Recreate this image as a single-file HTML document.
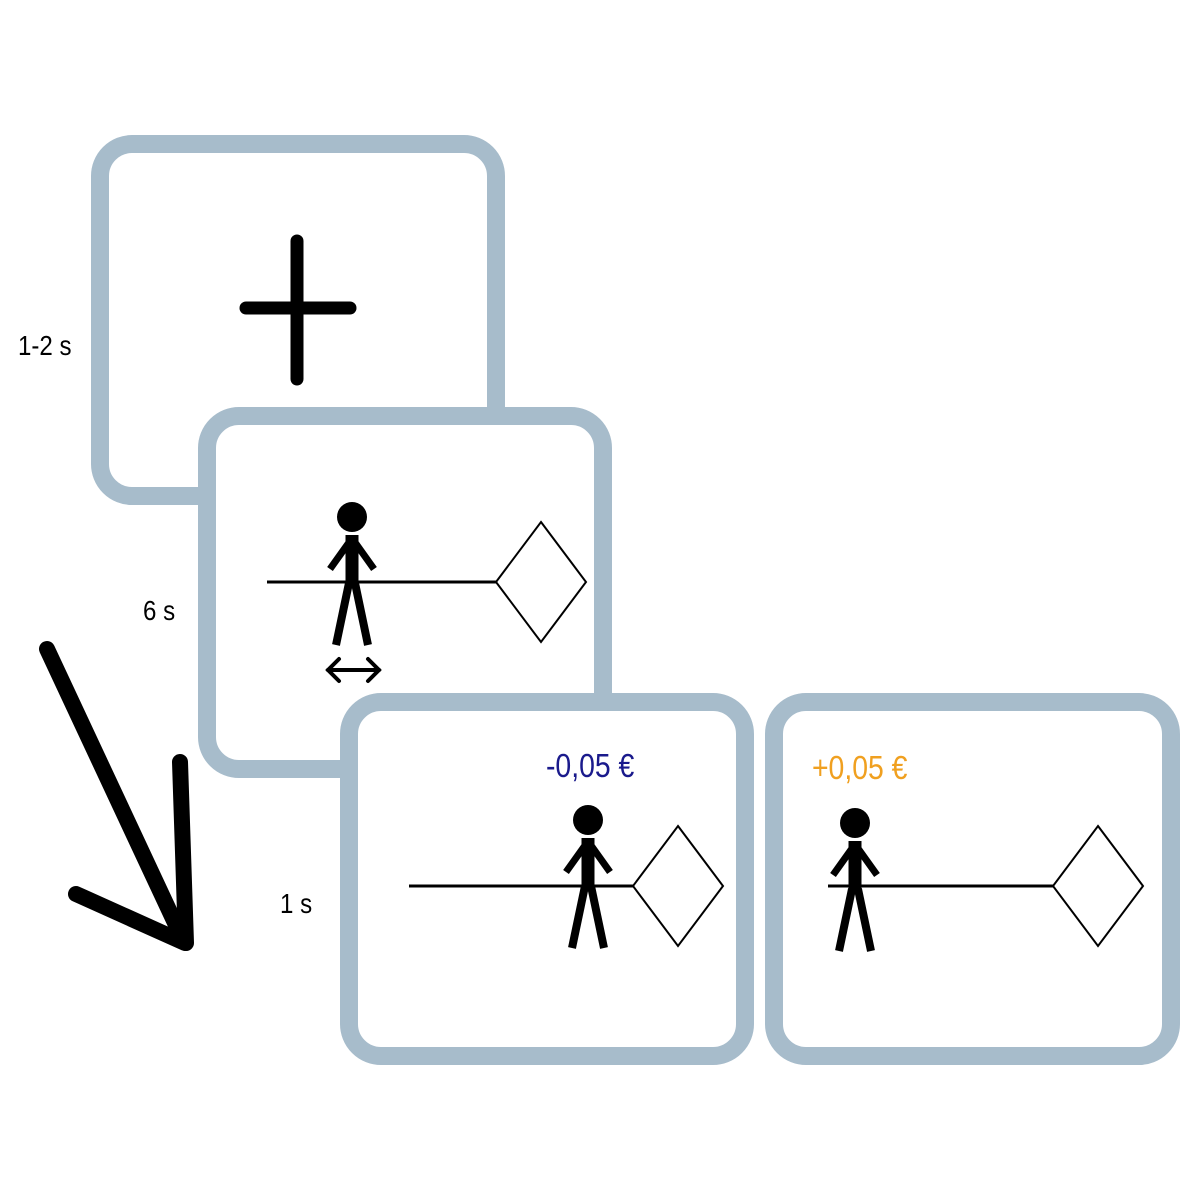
<!DOCTYPE html>
<html><head><style>
html,body{margin:0;padding:0;background:#fff;}
svg{display:block;}
text{font-family:"Liberation Sans",sans-serif;}
</style></head><body>
<svg width="1200" height="1200" viewBox="0 0 1200 1200" xmlns="http://www.w3.org/2000/svg">
<defs>
<g id="fig">
<circle cx="0" cy="0" r="15" fill="#000"/>
<line x1="0" y1="18" x2="0" y2="68" stroke="#000" stroke-width="13"/>
<line x1="-2" y1="24" x2="-22" y2="52" stroke="#000" stroke-width="7"/>
<line x1="2" y1="24" x2="22" y2="52" stroke="#000" stroke-width="7"/>
<line x1="-3" y1="66" x2="-16" y2="128" stroke="#000" stroke-width="8"/>
<line x1="3" y1="66" x2="16" y2="128" stroke="#000" stroke-width="8"/>
</g>
</defs>
<g fill="#fff" stroke="#a7bccb" stroke-width="18">
<rect x="100" y="144" width="396" height="352" rx="32"/>
<rect x="207" y="416" width="396" height="353" rx="32"/>
<rect x="349" y="702" width="396" height="354" rx="32"/>
<rect x="774" y="702" width="397" height="354" rx="32"/>
</g>
<g stroke="#000" stroke-width="13" stroke-linecap="round">
<line x1="297" y1="241" x2="297" y2="379"/>
<line x1="246" y1="308" x2="350" y2="308"/>
</g>
<line x1="267" y1="582" x2="496" y2="582" stroke="#000" stroke-width="3"/>
<polygon points="541,522 586,582 541,642 496,582" fill="#fff" stroke="#000" stroke-width="2"/>
<use href="#fig" x="352" y="517"/>
<g stroke="#000" stroke-width="4" fill="none" stroke-linecap="round">
<line x1="328" y1="670" x2="379" y2="670"/>
<polyline points="339,659 328,670 339,681"/>
<polyline points="368,659 379,670 368,681"/>
</g>
<line x1="409" y1="886" x2="633" y2="886" stroke="#000" stroke-width="3"/>
<polygon points="678,826 723,886 678,946 633,886" fill="#fff" stroke="#000" stroke-width="2"/>
<use href="#fig" x="588" y="820"/>
<text x="546" y="777" font-size="33" fill="#1a1a8c" transform="translate(546 0) scale(0.86 1) translate(-546 0)">-0,05 €</text>
<line x1="828" y1="886" x2="1053" y2="886" stroke="#000" stroke-width="3"/>
<polygon points="1098,826 1143,886 1098,946 1053,886" fill="#fff" stroke="#000" stroke-width="2"/>
<use href="#fig" x="855" y="823"/>
<text x="812" y="779" font-size="33" fill="#f0a020" transform="translate(812 0) scale(0.86 1) translate(-812 0)">+0,05 €</text>
<text x="18" y="355" font-size="28" fill="#000" transform="translate(18 0) scale(0.86 1) translate(-18 0)">1-2 s</text>
<text x="143" y="620" font-size="28" fill="#000" transform="translate(143 0) scale(0.86 1) translate(-143 0)">6 s</text>
<text x="280" y="913" font-size="28" fill="#000" transform="translate(280 0) scale(0.86 1) translate(-280 0)">1 s</text>
<g stroke="#000" stroke-width="16" stroke-linecap="round" fill="none">
<line x1="47" y1="649" x2="183" y2="940"/>
<line x1="180" y1="762" x2="186" y2="943"/>
<line x1="76" y1="894" x2="185" y2="943"/>
</g>
</svg>
</body></html>
